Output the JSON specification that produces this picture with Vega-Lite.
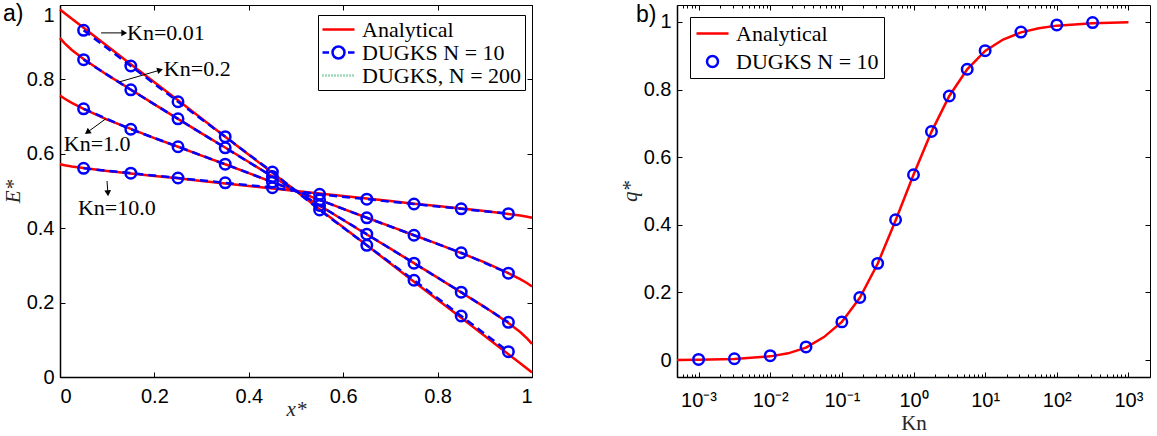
{
  "$schema": "https://vega.github.io/schema/vega-lite/v6.json",
  "background": "white",
  "padding": {"left": 1, "top": 2, "right": 0, "bottom": 0},
  "bounds": "flush",
  "spacing": 145,
  "config": {
    "font": "Liberation Sans",
    "view": {"stroke": "#000", "strokeWidth": 1},
    "axis": {"grid": false, "domainColor": "#000", "domainWidth": 1.5, "tickColor": "#000", "tickWidth": 1, "labelColor": "#000", "labelFont": "Liberation Sans", "labelFontSize": 20, "titleFont": "Liberation Serif", "titleFontSize": 21, "titleFontWeight": "normal", "titleColor": "#262626", "labelOverlap": false, "labelBound": false},
    "title": {"anchor": "start", "frame": "group", "font": "Liberation Sans", "fontSize": 23, "fontWeight": "normal", "baseline": "top", "offset": 0, "color": "#000"}
  },
  "datasets": {
    "eAnalytic": [
      {"Kn":"0.01","x":0,"E":0.988},{"Kn":"0.01","x":0.01,"E":0.978},{"Kn":"0.01","x":0.025,"E":0.963},{"Kn":"0.01","x":0.05,"E":0.939},{"Kn":"0.01","x":0.1,"E":0.890},{"Kn":"0.01","x":0.15,"E":0.841},{"Kn":"0.01","x":0.2,"E":0.7925},{"Kn":"0.01","x":0.25,"E":0.744},{"Kn":"0.01","x":0.3,"E":0.695},{"Kn":"0.01","x":0.35,"E":0.646},{"Kn":"0.01","x":0.4,"E":0.5975},{"Kn":"0.01","x":0.45,"E":0.549},{"Kn":"0.01","x":0.5,"E":0.5},{"Kn":"0.01","x":0.55,"E":0.451},{"Kn":"0.01","x":0.6,"E":0.4025},{"Kn":"0.01","x":0.65,"E":0.354},{"Kn":"0.01","x":0.7,"E":0.305},{"Kn":"0.01","x":0.75,"E":0.256},{"Kn":"0.01","x":0.8,"E":0.2075},{"Kn":"0.01","x":0.85,"E":0.159},{"Kn":"0.01","x":0.9,"E":0.110},{"Kn":"0.01","x":0.95,"E":0.061},{"Kn":"0.01","x":0.975,"E":0.037},{"Kn":"0.01","x":0.99,"E":0.022},{"Kn":"0.01","x":1,"E":0.012},
      {"Kn":"0.2","x":0,"E":0.911},{"Kn":"0.2","x":0.01,"E":0.897},{"Kn":"0.2","x":0.025,"E":0.879},{"Kn":"0.2","x":0.05,"E":0.855},{"Kn":"0.2","x":0.1,"E":0.812},{"Kn":"0.2","x":0.15,"E":0.773},{"Kn":"0.2","x":0.2,"E":0.733},{"Kn":"0.2","x":0.25,"E":0.694},{"Kn":"0.2","x":0.3,"E":0.655},{"Kn":"0.2","x":0.35,"E":0.617},{"Kn":"0.2","x":0.4,"E":0.578},{"Kn":"0.2","x":0.45,"E":0.539},{"Kn":"0.2","x":0.5,"E":0.5},{"Kn":"0.2","x":0.55,"E":0.461},{"Kn":"0.2","x":0.6,"E":0.422},{"Kn":"0.2","x":0.65,"E":0.383},{"Kn":"0.2","x":0.7,"E":0.345},{"Kn":"0.2","x":0.75,"E":0.306},{"Kn":"0.2","x":0.8,"E":0.267},{"Kn":"0.2","x":0.85,"E":0.227},{"Kn":"0.2","x":0.9,"E":0.188},{"Kn":"0.2","x":0.95,"E":0.145},{"Kn":"0.2","x":0.975,"E":0.121},{"Kn":"0.2","x":0.99,"E":0.103},{"Kn":"0.2","x":1,"E":0.089},
      {"Kn":"1.0","x":0,"E":0.757},{"Kn":"1.0","x":0.01,"E":0.748},{"Kn":"1.0","x":0.025,"E":0.737},{"Kn":"1.0","x":0.05,"E":0.721},{"Kn":"1.0","x":0.1,"E":0.692},{"Kn":"1.0","x":0.15,"E":0.667},{"Kn":"1.0","x":0.2,"E":0.642},{"Kn":"1.0","x":0.25,"E":0.619},{"Kn":"1.0","x":0.3,"E":0.595},{"Kn":"1.0","x":0.35,"E":0.572},{"Kn":"1.0","x":0.4,"E":0.548},{"Kn":"1.0","x":0.45,"E":0.524},{"Kn":"1.0","x":0.5,"E":0.5},{"Kn":"1.0","x":0.55,"E":0.476},{"Kn":"1.0","x":0.6,"E":0.452},{"Kn":"1.0","x":0.65,"E":0.428},{"Kn":"1.0","x":0.7,"E":0.405},{"Kn":"1.0","x":0.75,"E":0.381},{"Kn":"1.0","x":0.8,"E":0.358},{"Kn":"1.0","x":0.85,"E":0.333},{"Kn":"1.0","x":0.9,"E":0.308},{"Kn":"1.0","x":0.95,"E":0.279},{"Kn":"1.0","x":0.975,"E":0.263},{"Kn":"1.0","x":0.99,"E":0.252},{"Kn":"1.0","x":1,"E":0.243},
      {"Kn":"10.0","x":0,"E":0.572},{"Kn":"10.0","x":0.01,"E":0.569},{"Kn":"10.0","x":0.025,"E":0.566},{"Kn":"10.0","x":0.05,"E":0.562},{"Kn":"10.0","x":0.1,"E":0.554},{"Kn":"10.0","x":0.15,"E":0.547},{"Kn":"10.0","x":0.2,"E":0.5405},{"Kn":"10.0","x":0.25,"E":0.534},{"Kn":"10.0","x":0.3,"E":0.527},{"Kn":"10.0","x":0.35,"E":0.520},{"Kn":"10.0","x":0.4,"E":0.5135},{"Kn":"10.0","x":0.45,"E":0.507},{"Kn":"10.0","x":0.5,"E":0.5},{"Kn":"10.0","x":0.55,"E":0.493},{"Kn":"10.0","x":0.6,"E":0.4865},{"Kn":"10.0","x":0.65,"E":0.480},{"Kn":"10.0","x":0.7,"E":0.473},{"Kn":"10.0","x":0.75,"E":0.466},{"Kn":"10.0","x":0.8,"E":0.4595},{"Kn":"10.0","x":0.85,"E":0.453},{"Kn":"10.0","x":0.9,"E":0.446},{"Kn":"10.0","x":0.95,"E":0.438},{"Kn":"10.0","x":0.975,"E":0.434},{"Kn":"10.0","x":0.99,"E":0.431},{"Kn":"10.0","x":1,"E":0.428}
    ],
    "eDugks": [
      {"Kn":"0.01","x":0.05,"E":0.932},{"Kn":"0.01","x":0.15,"E":0.836},{"Kn":"0.01","x":0.25,"E":0.740},{"Kn":"0.01","x":0.35,"E":0.646},{"Kn":"0.01","x":0.45,"E":0.551},{"Kn":"0.01","x":0.55,"E":0.449},{"Kn":"0.01","x":0.65,"E":0.354},{"Kn":"0.01","x":0.75,"E":0.260},{"Kn":"0.01","x":0.85,"E":0.164},{"Kn":"0.01","x":0.95,"E":0.068},
      {"Kn":"0.2","x":0.05,"E":0.853},{"Kn":"0.2","x":0.15,"E":0.772},{"Kn":"0.2","x":0.25,"E":0.694},{"Kn":"0.2","x":0.35,"E":0.616},{"Kn":"0.2","x":0.45,"E":0.539},{"Kn":"0.2","x":0.55,"E":0.461},{"Kn":"0.2","x":0.65,"E":0.384},{"Kn":"0.2","x":0.75,"E":0.306},{"Kn":"0.2","x":0.85,"E":0.228},{"Kn":"0.2","x":0.95,"E":0.147},
      {"Kn":"1.0","x":0.05,"E":0.721},{"Kn":"1.0","x":0.15,"E":0.666},{"Kn":"1.0","x":0.25,"E":0.619},{"Kn":"1.0","x":0.35,"E":0.572},{"Kn":"1.0","x":0.45,"E":0.524},{"Kn":"1.0","x":0.55,"E":0.476},{"Kn":"1.0","x":0.65,"E":0.428},{"Kn":"1.0","x":0.75,"E":0.381},{"Kn":"1.0","x":0.85,"E":0.334},{"Kn":"1.0","x":0.95,"E":0.279},
      {"Kn":"10.0","x":0.05,"E":0.561},{"Kn":"10.0","x":0.15,"E":0.548},{"Kn":"10.0","x":0.25,"E":0.535},{"Kn":"10.0","x":0.35,"E":0.522},{"Kn":"10.0","x":0.45,"E":0.509},{"Kn":"10.0","x":0.55,"E":0.491},{"Kn":"10.0","x":0.65,"E":0.478},{"Kn":"10.0","x":0.75,"E":0.465},{"Kn":"10.0","x":0.85,"E":0.452},{"Kn":"10.0","x":0.95,"E":0.439}
    ],
    "labels": [
      {"label":"Kn=0.01","x":0.142,"E":0.925},
      {"label":"Kn=0.2","x":0.220,"E":0.828},
      {"label":"Kn=1.0","x":0.008,"E":0.626},
      {"label":"Kn=10.0","x":0.038,"E":0.454}
    ],
    "arrows": [
      {"id":1,"x":0.087,"E":0.925,"x2":0.136,"E2":0.925},
      {"id":2,"x":0.125,"E":0.793,"x2":0.212,"E2":0.825},
      {"id":3,"x":0.097,"E":0.694,"x2":0.058,"E2":0.658},
      {"id":4,"x":0.0996,"E":0.527,"x2":0.1015,"E2":0.494}
    ],
    "qAnalytic": [
      {"Kn":0.0005,"q":0.0005},{"Kn":0.001,"q":0.001},{"Kn":0.00316,"q":0.003},{"Kn":0.01,"q":0.011},{"Kn":0.0178,"q":0.020},{"Kn":0.0316,"q":0.037},{"Kn":0.0562,"q":0.068},{"Kn":0.1,"q":0.113},{"Kn":0.178,"q":0.184},{"Kn":0.316,"q":0.285},{"Kn":0.562,"q":0.413},{"Kn":1,"q":0.548},{"Kn":1.78,"q":0.675},{"Kn":3.16,"q":0.781},{"Kn":5.62,"q":0.860},{"Kn":10,"q":0.914},{"Kn":17.8,"q":0.948},{"Kn":31.6,"q":0.969},{"Kn":56.2,"q":0.981},{"Kn":100,"q":0.989},{"Kn":316,"q":0.996},{"Kn":1000,"q":0.999}
    ],
    "qDugks": [
      {"Kn":0.001,"q":0.002},{"Kn":0.00316,"q":0.004},{"Kn":0.01,"q":0.013},{"Kn":0.0316,"q":0.039},{"Kn":0.1,"q":0.113},{"Kn":0.178,"q":0.185},{"Kn":0.316,"q":0.286},{"Kn":0.562,"q":0.415},{"Kn":1,"q":0.548},{"Kn":1.78,"q":0.676},{"Kn":3.16,"q":0.781},{"Kn":5.62,"q":0.860},{"Kn":10,"q":0.915},{"Kn":31.6,"q":0.970},{"Kn":100,"q":0.991},{"Kn":316,"q":0.998}
    ]
  },
  "hconcat": [
    {
      "width": 472,
      "height": 372,
      "title": {"text": "a)", "dx": -57, "dy": 26},
      "layer": [
        {
          "data": {"name": "eAnalytic"},
          "mark": {"type": "line", "color": "#3CB371", "strokeDash": [1, 3], "strokeWidth": 1.5},
          "encoding": {
            "x": {"field": "x", "type": "quantitative", "scale": {"domain": [0, 1], "nice": false, "zero": false},
                  "axis": {"orient": "bottom", "values": [0, 0.2, 0.4, 0.6, 0.8, 1], "format": "~g", "tickSize": -5, "labelPadding": 14, "title": "x*", "titleFontStyle": "italic", "titlePadding": -8}},
            "y": {"field": "E", "type": "quantitative", "scale": {"domain": [0, 1], "nice": false, "zero": false},
                  "axis": {"orient": "left", "values": [0, 0.2, 0.4, 0.6, 0.8, 1], "format": "~g", "tickSize": -5, "labelPadding": 11, "title": "E*", "titleFontStyle": "italic", "titlePadding": 3,
                           "labelBaseline": {"condition": {"test": "datum.value == 1", "value": "top"}, "value": "middle"}}},
            "detail": {"field": "Kn", "type": "nominal"}
          }
        },
        {
          "data": {"name": "eAnalytic"},
          "mark": {"type": "line", "color": "#FF0000", "strokeWidth": 2.5},
          "encoding": {
            "x": {"field": "x", "type": "quantitative", "axis": null},
            "y": {"field": "E", "type": "quantitative", "axis": null},
            "detail": {"field": "Kn", "type": "nominal"}
          }
        },
        {
          "data": {"name": "eDugks"},
          "mark": {"type": "line", "color": "#0000FF", "strokeWidth": 2.5, "strokeDash": [8, 5]},
          "encoding": {
            "x": {"field": "x", "type": "quantitative", "axis": null},
            "y": {"field": "E", "type": "quantitative", "axis": null},
            "detail": {"field": "Kn", "type": "nominal"}
          }
        },
        {
          "data": {"name": "eDugks"},
          "mark": {"type": "point", "filled": false, "color": "#0000FF", "strokeWidth": 2.5, "size": 110, "opacity": 1},
          "encoding": {
            "x": {"field": "x", "type": "quantitative", "axis": null},
            "y": {"field": "E", "type": "quantitative", "axis": null}
          }
        },
        {
          "data": {"name": "arrows"},
          "mark": {"type": "rule", "color": "#000", "strokeWidth": 1},
          "encoding": {
            "x": {"field": "x", "type": "quantitative", "axis": null},
            "y": {"field": "E", "type": "quantitative", "axis": null},
            "x2": {"field": "x2"},
            "y2": {"field": "E2"}
          }
        },
        {
          "data": {"name": "arrows"},
          "transform": [{"filter": "datum.id == 1"}],
          "mark": {"type": "point", "shape": "triangle-right", "angle": 0, "filled": true, "color": "#000", "size": 45, "opacity": 1},
          "encoding": {"x": {"field": "x2", "type": "quantitative", "axis": null}, "y": {"field": "E2", "type": "quantitative", "axis": null}}
        },
        {
          "data": {"name": "arrows"},
          "transform": [{"filter": "datum.id == 2"}],
          "mark": {"type": "point", "shape": "triangle-right", "angle": 344, "filled": true, "color": "#000", "size": 45, "opacity": 1},
          "encoding": {"x": {"field": "x2", "type": "quantitative", "axis": null}, "y": {"field": "E2", "type": "quantitative", "axis": null}}
        },
        {
          "data": {"name": "arrows"},
          "transform": [{"filter": "datum.id == 3"}],
          "mark": {"type": "point", "shape": "triangle-right", "angle": 144, "filled": true, "color": "#000", "size": 45, "opacity": 1},
          "encoding": {"x": {"field": "x2", "type": "quantitative", "axis": null}, "y": {"field": "E2", "type": "quantitative", "axis": null}}
        },
        {
          "data": {"name": "arrows"},
          "transform": [{"filter": "datum.id == 4"}],
          "mark": {"type": "point", "shape": "triangle-right", "angle": 86, "filled": true, "color": "#000", "size": 45, "opacity": 1},
          "encoding": {"x": {"field": "x2", "type": "quantitative", "axis": null}, "y": {"field": "E2", "type": "quantitative", "axis": null}}
        },
        {
          "data": {"name": "labels"},
          "mark": {"type": "text", "align": "left", "baseline": "middle", "font": "Liberation Serif", "fontSize": 22, "color": "#000"},
          "encoding": {
            "x": {"field": "x", "type": "quantitative", "axis": null},
            "y": {"field": "E", "type": "quantitative", "axis": null},
            "text": {"field": "label"}
          }
        },
        {
          "data": {"name": "eDugks"},
          "transform": [{"filter": "false"}],
          "mark": {"type": "point", "filled": false, "strokeWidth": 2, "opacity": 1},
          "encoding": {
            "x": {"field": "x", "type": "quantitative", "axis": {"orient": "top", "values": [0, 0.2, 0.4, 0.6, 0.8, 1], "labels": false, "domain": false, "tickSize": -5, "title": null}},
            "y": {"field": "E", "type": "quantitative", "axis": {"orient": "right", "values": [0, 0.2, 0.4, 0.6, 0.8, 1], "labels": false, "domain": false, "tickSize": -5, "title": null}},
            "color": {"field": "series", "type": "nominal",
                      "scale": {"domain": ["Analytical", "DUGKS N = 10", "DUGKS, N = 200"], "range": ["#FF0000", "#0000FF", "#3CB371"]},
                      "legend": {"orient": "none", "legendX": 258, "legendY": 10, "title": null, "strokeColor": "#000", "fillColor": "#fff", "padding": 3, "labelFont": "Liberation Serif", "labelFontSize": 22, "labelColor": "#000", "symbolSize": 400, "symbolStrokeWidth": 2.5, "symbolOffset": 6, "rowPadding": -1, "labelOffset": 12, "cornerRadius": 0}},
            "shape": {"field": "series", "type": "nominal",
                      "scale": {"domain": ["Analytical", "DUGKS N = 10", "DUGKS, N = 200"],
                                "range": ["M-1.6,0H1.6", "M-1.6,0H-0.95M0.95,0H1.6M0.6,0A0.6,0.6 0 1 1 -0.6,0A0.6,0.6 0 1 1 0.6,0", "M-1.6,0H-1.5M-1.3,0H-1.2M-1,0H-0.9M-0.7,0H-0.6M-0.4,0H-0.3M-0.1,0H0M0.2,0H0.3M0.5,0H0.6M0.8,0H0.9M1.1,0H1.2M1.4,0H1.5"]},
                      "legend": {"orient": "none", "legendX": 258, "legendY": 10, "title": null, "strokeColor": "#000", "fillColor": "#fff", "padding": 3, "labelFont": "Liberation Serif", "labelFontSize": 22, "labelColor": "#000", "symbolSize": 400, "symbolStrokeWidth": 2.5, "symbolOffset": 6, "rowPadding": -1, "labelOffset": 12, "cornerRadius": 0}}
          }
        }
      ],
      "resolve": {"axis": {"x": "independent", "y": "independent"}}
    },
    {
      "width": 473,
      "height": 372,
      "title": {"text": "b)", "dx": -41, "dy": 26},
      "layer": [
        {
          "data": {"name": "qAnalytic"},
          "mark": {"type": "line", "color": "#FF0000", "strokeWidth": 2.5},
          "encoding": {
            "x": {"field": "Kn", "type": "quantitative", "scale": {"type": "log", "domain": [0.0005, 2000], "nice": false},
                  "axis": {"orient": "bottom", "values": [0.0006,0.0007,0.0008,0.0009,0.001,0.002,0.003,0.004,0.005,0.006,0.007,0.008,0.009,0.01,0.02,0.03,0.04,0.05,0.06,0.07,0.08,0.09,0.1,0.2,0.3,0.4,0.5,0.6,0.7,0.8,0.9,1,2,3,4,5,6,7,8,9,10,20,30,40,50,60,70,80,90,100,200,300,400,500,600,700,800,900,1000],
                           "labelExpr": "datum.value == 0.001 ? '10⁻³' : datum.value == 0.01 ? '10⁻²' : datum.value == 0.1 ? '10⁻¹' : datum.value == 1 ? '10⁰' : datum.value == 10 ? '10¹' : datum.value == 100 ? '10²' : datum.value == 1000 ? '10³' : ''",
                           "tickSize": {"condition": {"test": "indexof([0.001,0.01,0.1,1,10,100,1000], datum.value) >= 0", "value": -5}, "value": -3},
                           "labelPadding": 18, "title": "Kn", "titlePadding": 0}},
            "y": {"field": "q", "type": "quantitative", "scale": {"domain": [-0.05, 1.05], "nice": false, "zero": false},
                  "axis": {"orient": "left", "values": [0, 0.2, 0.4, 0.6, 0.8, 1], "format": "~g", "tickSize": -5, "labelPadding": 11, "title": "q*", "titleFontStyle": "italic", "titlePadding": 3}}
          }
        },
        {
          "data": {"name": "qDugks"},
          "mark": {"type": "point", "filled": false, "color": "#0000FF", "strokeWidth": 2.5, "size": 110, "opacity": 1},
          "encoding": {
            "x": {"field": "Kn", "type": "quantitative", "axis": null},
            "y": {"field": "q", "type": "quantitative", "axis": null}
          }
        },
        {
          "data": {"name": "qDugks"},
          "transform": [{"filter": "false"}],
          "mark": {"type": "point", "filled": false, "strokeWidth": 2, "opacity": 1},
          "encoding": {
            "x": {"field": "Kn", "type": "quantitative", "axis": {"orient": "top", "values": [0.0006,0.0007,0.0008,0.0009,0.001,0.002,0.003,0.004,0.005,0.006,0.007,0.008,0.009,0.01,0.02,0.03,0.04,0.05,0.06,0.07,0.08,0.09,0.1,0.2,0.3,0.4,0.5,0.6,0.7,0.8,0.9,1,2,3,4,5,6,7,8,9,10,20,30,40,50,60,70,80,90,100,200,300,400,500,600,700,800,900,1000], "labels": false, "domain": false,
                  "tickSize": {"condition": {"test": "indexof([0.001,0.01,0.1,1,10,100,1000], datum.value) >= 0", "value": -5}, "value": -3}, "title": null}},
            "y": {"field": "q", "type": "quantitative", "axis": {"orient": "right", "values": [0, 0.2, 0.4, 0.6, 0.8, 1], "labels": false, "domain": false, "tickSize": -5, "title": null}},
            "color": {"field": "series", "type": "nominal",
                      "scale": {"domain": ["Analytical", "DUGKS N = 10"], "range": ["#FF0000", "#0000FF"]},
                      "legend": {"orient": "none", "legendX": 13, "legendY": 12, "title": null, "strokeColor": "#000", "fillColor": "#fff", "padding": 5, "labelFont": "Liberation Serif", "labelFontSize": 22, "labelColor": "#000", "symbolSize": 400, "symbolStrokeWidth": 2.5, "symbolOffset": 6, "rowPadding": 5, "labelOffset": 12, "cornerRadius": 0}},
            "shape": {"field": "series", "type": "nominal",
                      "scale": {"domain": ["Analytical", "DUGKS N = 10"], "range": ["M-1.6,0H1.6", "M0.55,0A0.55,0.55 0 1 1 -0.55,0A0.55,0.55 0 1 1 0.55,0"]},
                      "legend": {"orient": "none", "legendX": 13, "legendY": 12, "title": null, "strokeColor": "#000", "fillColor": "#fff", "padding": 5, "labelFont": "Liberation Serif", "labelFontSize": 22, "labelColor": "#000", "symbolSize": 400, "symbolStrokeWidth": 2.5, "symbolOffset": 6, "rowPadding": 5, "labelOffset": 12, "cornerRadius": 0}}
          }
        }
      ],
      "resolve": {"axis": {"x": "independent", "y": "independent"}}
    }
  ],
  "resolve": {"scale": {"color": "independent", "shape": "independent"}, "legend": {"color": "independent", "shape": "independent"}}
}
